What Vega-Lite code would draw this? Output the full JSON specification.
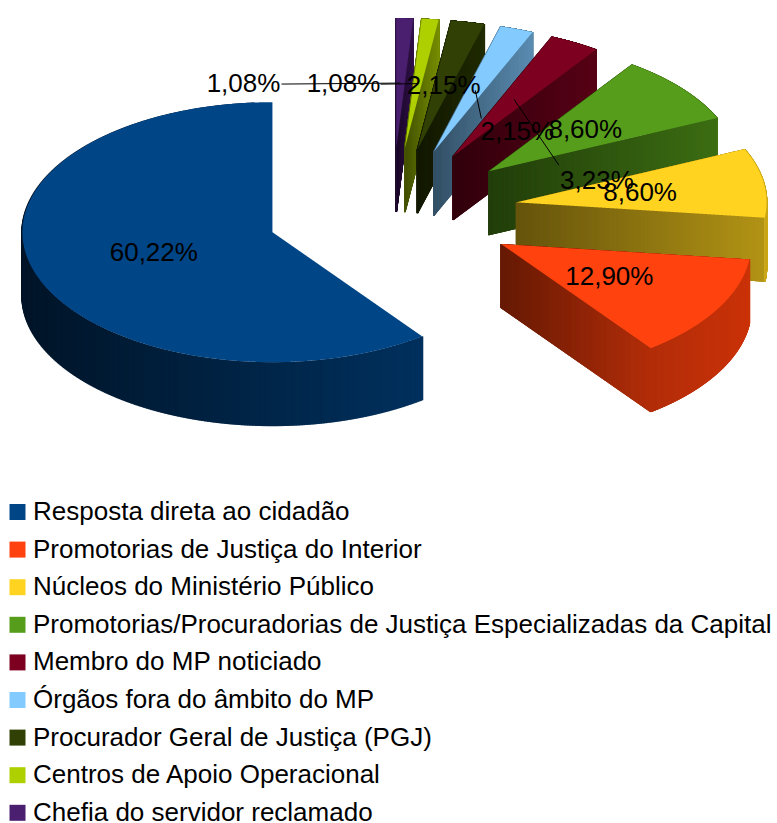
{"$schema":"https://vega.github.io/schema/vega-lite/v6.json","width":777,"height":823,"padding":0,"autosize":"none","background":"white","view":{"stroke":null},
"data":{"values":[
{"ordem":1,"categoria":"Resposta direta ao cidadão","share":60.22},
{"ordem":2,"categoria":"Promotorias de Justiça do Interior","share":12.90},
{"ordem":3,"categoria":"Núcleos do Ministério Público","share":8.60},
{"ordem":4,"categoria":"Promotorias/Procuradorias de Justiça Especializadas da Capital","share":8.60},
{"ordem":5,"categoria":"Membro do MP noticiado","share":3.23},
{"ordem":6,"categoria":"Órgãos fora do âmbito do MP","share":2.15},
{"ordem":7,"categoria":"Procurador Geral de Justiça (PGJ)","share":2.15},
{"ordem":8,"categoria":"Centros de Apoio Operacional","share":1.08},
{"ordem":9,"categoria":"Chefia do servidor reclamado","share":1.08}]},
"transform":[
{"window":[{"op":"sum","field":"share","as":"cum"}],"sort":[{"field":"ordem","order":"ascending"}],"ignorePeers":true},
{"joinaggregate":[{"op":"sum","field":"share","as":"total"}]},
{"calculate":"-2*PI*(datum.cum-datum.share)/datum.total","as":"a0"},
{"calculate":"-2*PI*datum.cum/datum.total","as":"a1"},
{"calculate":"(datum.a0+datum.a1)/2","as":"mid"},
{"calculate":"392+126*sin(datum.mid)","as":"ax"},
{"calculate":"212-64*cos(datum.mid)","as":"ay"},
{"calculate":"sequence(0,1801)","as":"k"},
{"flatten":["k"]},
{"calculate":"datum.k/600","as":"u"},
{"calculate":"datum.u<=1?datum.a0:(datum.u>=2?datum.a1:datum.a0+(datum.u-1)*(datum.a1-datum.a0))","as":"ang"},
{"calculate":"datum.u<1?datum.u:(datum.u>2?3-datum.u:1)","as":"fr"},
{"calculate":"datum.ax+250*datum.fr*sin(datum.ang)","as":"px"},
{"calculate":"datum.ay-130*datum.fr*cos(datum.ang)","as":"py"},
{"calculate":"datum.py+64","as":"py2"},
{"calculate":"(datum.u>=1&&datum.u<=2)?0.55+0.25*sin(datum.ang):0.4+0.3*datum.fr","as":"sh"},
{"calculate":"rgb(['#004586','#ff420e','#ffd320','#579d1c','#7e0021','#83caff','#314004','#aecf00','#4b1f6f'][datum.ordem-1])","as":"base"},
{"calculate":"rgb(datum.base.r*datum.sh,datum.base.g*datum.sh,datum.base.b*datum.sh)+''","as":"wall"}
],
"encoding":{
"x":{"field":"px","type":"quantitative","scale":{"domain":[0,777],"nice":false,"zero":false},"axis":null},
"y":{"field":"py","type":"quantitative","scale":{"domain":[823,0],"nice":false,"zero":false},"axis":null}
},
"layer":[
{"transform":[{"filter":"datum.ordem==9"}],"mark":{"type":"rule","strokeWidth":1.6},"encoding":{"y2":{"field":"py2"},"stroke":{"field":"wall","type":"nominal","scale":null},"order":{"field":"py","type":"quantitative"}}},
{"transform":[{"filter":"datum.ordem==9"}],"mark":{"type":"line","strokeWidth":0},"encoding":{"fill":{"field":"categoria","type":"nominal"},"order":{"field":"u","type":"quantitative"}}},
{"transform":[{"filter":"datum.ordem==8"}],"mark":{"type":"rule","strokeWidth":1.6},"encoding":{"y2":{"field":"py2"},"stroke":{"field":"wall","type":"nominal","scale":null},"order":{"field":"py","type":"quantitative"}}},
{"transform":[{"filter":"datum.ordem==8"}],"mark":{"type":"line","strokeWidth":0},"encoding":{"fill":{"field":"categoria","type":"nominal"},"order":{"field":"u","type":"quantitative"}}},
{"transform":[{"filter":"datum.ordem==7"}],"mark":{"type":"rule","strokeWidth":1.6},"encoding":{"y2":{"field":"py2"},"stroke":{"field":"wall","type":"nominal","scale":null},"order":{"field":"py","type":"quantitative"}}},
{"transform":[{"filter":"datum.ordem==7"}],"mark":{"type":"line","strokeWidth":0},"encoding":{"fill":{"field":"categoria","type":"nominal"},"order":{"field":"u","type":"quantitative"}}},
{"transform":[{"filter":"datum.ordem==6"}],"mark":{"type":"rule","strokeWidth":1.6},"encoding":{"y2":{"field":"py2"},"stroke":{"field":"wall","type":"nominal","scale":null},"order":{"field":"py","type":"quantitative"}}},
{"transform":[{"filter":"datum.ordem==6"}],"mark":{"type":"line","strokeWidth":0},"encoding":{"fill":{"field":"categoria","type":"nominal"},"order":{"field":"u","type":"quantitative"}}},
{"transform":[{"filter":"datum.ordem==5"}],"mark":{"type":"rule","strokeWidth":1.6},"encoding":{"y2":{"field":"py2"},"stroke":{"field":"wall","type":"nominal","scale":null},"order":{"field":"py","type":"quantitative"}}},
{"transform":[{"filter":"datum.ordem==5"}],"mark":{"type":"line","strokeWidth":0},"encoding":{"fill":{"field":"categoria","type":"nominal"},"order":{"field":"u","type":"quantitative"}}},
{"transform":[{"filter":"datum.ordem==4"}],"mark":{"type":"rule","strokeWidth":1.6},"encoding":{"y2":{"field":"py2"},"stroke":{"field":"wall","type":"nominal","scale":null},"order":{"field":"py","type":"quantitative"}}},
{"transform":[{"filter":"datum.ordem==4"}],"mark":{"type":"line","strokeWidth":0},"encoding":{"fill":{"field":"categoria","type":"nominal"},"order":{"field":"u","type":"quantitative"}}},
{"transform":[{"filter":"datum.ordem==3"}],"mark":{"type":"rule","strokeWidth":1.6},"encoding":{"y2":{"field":"py2"},"stroke":{"field":"wall","type":"nominal","scale":null},"order":{"field":"py","type":"quantitative"}}},
{"transform":[{"filter":"datum.ordem==3"}],"mark":{"type":"line","strokeWidth":0},"encoding":{"fill":{"field":"categoria","type":"nominal"},"order":{"field":"u","type":"quantitative"}}},
{"transform":[{"filter":"datum.ordem==2"}],"mark":{"type":"rule","strokeWidth":1.6},"encoding":{"y2":{"field":"py2"},"stroke":{"field":"wall","type":"nominal","scale":null},"order":{"field":"py","type":"quantitative"}}},
{"transform":[{"filter":"datum.ordem==2"}],"mark":{"type":"line","strokeWidth":0},"encoding":{"fill":{"field":"categoria","type":"nominal"},"order":{"field":"u","type":"quantitative"}}},
{"transform":[{"filter":"datum.ordem==1&&datum.u>=1.02&&datum.u<=2"}],"mark":{"type":"rule","strokeWidth":2.4},"encoding":{"y2":{"field":"py2"},"stroke":{"field":"wall","type":"nominal","scale":null},"order":{"field":"py","type":"quantitative"}}},
{"transform":[{"filter":"datum.ordem==1"}],"mark":{"type":"line","strokeWidth":0},"encoding":{"fill":{"field":"categoria","type":"nominal"},"order":{"field":"u","type":"quantitative"}}},
{"transform":[{"filter":"datum.k==0"}],"mark":{"type":"square","opacity":0,"size":1},"encoding":{"x":{"field":"ax","type":"quantitative"},"y":{"field":"ay","type":"quantitative"},"fill":{"field":"categoria","type":"nominal","scale":{"domain":["Resposta direta ao cidadão","Promotorias de Justiça do Interior","Núcleos do Ministério Público","Promotorias/Procuradorias de Justiça Especializadas da Capital","Membro do MP noticiado","Órgãos fora do âmbito do MP","Procurador Geral de Justiça (PGJ)","Centros de Apoio Operacional","Chefia do servidor reclamado"],"range":["#004586","#ff420e","#ffd320","#579d1c","#7e0021","#83caff","#314004","#aecf00","#4b1f6f"]},"legend":{"orient":"none","legendX":4.5,"legendY":499,"title":null,"symbolType":"square","symbolSize":256,"symbolStrokeWidth":0,"symbolOpacity":1,"labelFont":"Liberation Sans","labelFontSize":26,"labelColor":"#000000","labelLimit":800,"labelOffset":2.5,"rowPadding":11.6,"padding":0}}}},
{"transform":[{"filter":"datum.k==0&&datum.ordem!=7&&datum.ordem>=5"},
{"calculate":"datum.ax+125*sin(datum.mid)","as":"lx"},{"calculate":"datum.ay-65*cos(datum.mid)","as":"ly"},
{"calculate":"datum.lx+{5:45,6:6,8:-37,9:-119}[datum.ordem]","as":"lx2"},{"calculate":"datum.ly+{5:66,6:28,8:0.5,9:1}[datum.ordem]","as":"ly2"}],
"mark":{"type":"rule","stroke":"#000000","strokeWidth":1},"encoding":{"x":{"field":"lx","type":"quantitative"},"y":{"field":"ly","type":"quantitative"},"x2":{"field":"lx2"},"y2":{"field":"ly2"}}},
{"transform":[{"filter":"datum.k==0"},
{"calculate":"datum.ax+125*sin(datum.mid)+{1:0,2:0,3:0,4:0,5:83,6:42,7:1,8:-74,9:-157}[datum.ordem]","as":"tx"},
{"calculate":"datum.ay-65*cos(datum.mid)+{1:0,2:0,3:0,4:0,5:82,6:42,7:0,8:0.5,9:1}[datum.ordem]","as":"ty"},
{"calculate":"replace(format(datum.share,'.2f'),'.',',')+'%'","as":"rot"}],
"mark":{"type":"text","font":"Liberation Sans","fontSize":26,"color":"#000000","align":"center","baseline":"middle"},"encoding":{"x":{"field":"tx","type":"quantitative"},"y":{"field":"ty","type":"quantitative"},"text":{"field":"rot"}}}
]}
